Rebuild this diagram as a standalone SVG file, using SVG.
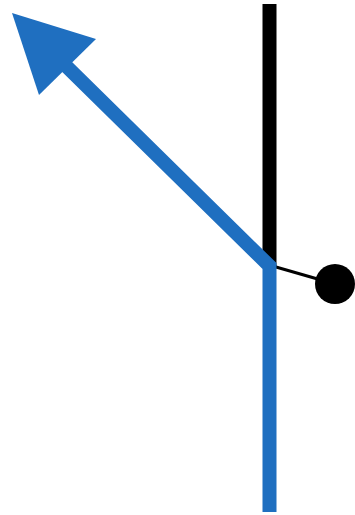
<svg xmlns="http://www.w3.org/2000/svg" width="355" height="515" viewBox="0 0 355 515">
<style>
.blue{stroke:#1f6fc0;fill:none;stroke-width:14}
.black{stroke:#000;fill:none}
</style>
<rect width="355" height="515" fill="#fff"/>
<g id="connectors">
<line class="black" x1="269.5" y1="4" x2="269.5" y2="266" stroke-width="14"/>
<line class="black" x1="269" y1="265" x2="335" y2="284" stroke-width="3"/>
<path class="blue" d="M269.5 512 L269.5 266 L60 60" stroke-linejoin="miter"/>
<polygon points="12,13 96,39 39,95" fill="#1f6fc0"/>
</g>
<g id="node-dot">
<circle cx="335" cy="284" r="20" fill="#000"/>
</g>
</svg>
